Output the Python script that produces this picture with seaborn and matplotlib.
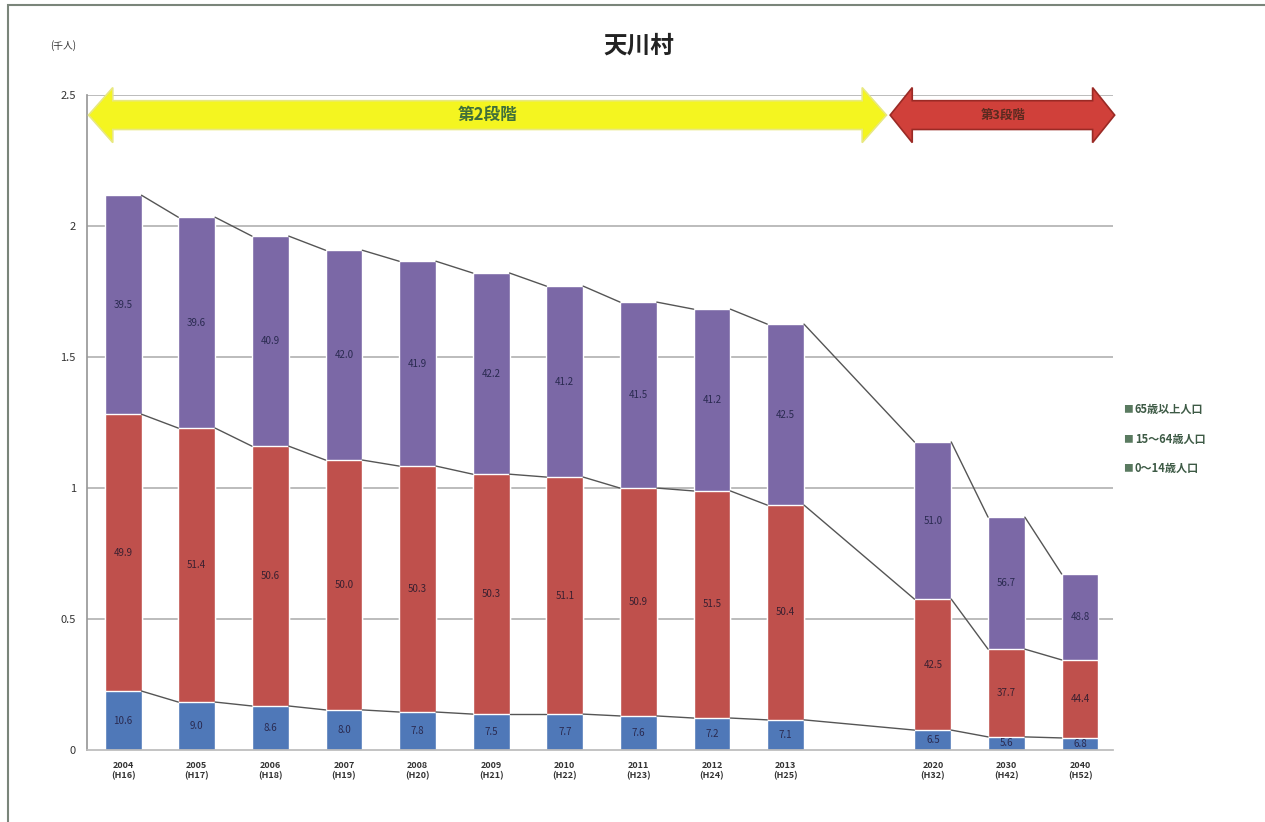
import numpy as np
import pandas as pd
import matplotlib
matplotlib.use("Agg")
import matplotlib.pyplot as plt
from matplotlib.patches import Polygon, Rectangle
import seaborn as sns

# data (thousand people)
years = ["2004\n(H16)", "2005\n(H17)", "2006\n(H18)", "2007\n(H19)", "2008\n(H20)",
         "2009\n(H21)", "2010\n(H22)", "2011\n(H23)", "2012\n(H24)", "2013\n(H25)",
         "2020\n(H32)", "2030\n(H42)", "2040\n(H52)"]
slot = [0, 1, 2, 3, 4, 5, 6, 7, 8, 9, 11, 12, 13]
young = [0.225, 0.183, 0.168, 0.153, 0.145, 0.137, 0.137, 0.130, 0.122, 0.115, 0.076, 0.050, 0.046]
working = [1.057, 1.046, 0.992, 0.954, 0.939, 0.916, 0.905, 0.870, 0.867, 0.820, 0.500, 0.335, 0.298]
elderly = [0.836, 0.805, 0.802, 0.801, 0.782, 0.768, 0.729, 0.710, 0.694, 0.691, 0.600, 0.504, 0.328]
young_lbl = ["10.6", "9.0", "8.6", "8.0", "7.8", "7.5", "7.7", "7.6", "7.2", "7.1", "6.5", "5.6", "6.8"]
working_lbl = ["49.9", "51.4", "50.6", "50.0", "50.3", "50.3", "51.1", "50.9", "51.5", "50.4", "42.5", "37.7", "44.4"]
elderly_lbl = ["39.5", "39.6", "40.9", "42.0", "41.9", "42.2", "41.2", "41.5", "41.2", "42.5", "51.0", "56.7", "48.8"]

c_old = "#7b68a6"
c_mid = "#bf504c"
c_young = "#4f78b8"

df = pd.DataFrame({"slot": slot, "young": young, "working": working, "elderly": elderly})
df["mid_top"] = df["young"] + df["working"]
df["total"] = df["mid_top"] + df["elderly"]

sns.set_theme(style="white")
plt.rcParams["font.family"] = ["Noto Sans CJK JP", "DejaVu Sans"]

fig = plt.figure(figsize=(12.65, 8.22), dpi=100)
ax = fig.add_axes([0.0688, 0.0876, 0.8112, 0.7966])

for v in [0.5, 1.0, 1.5, 2.0, 2.5]:
    ax.axhline(v, color="#b0b0b0", lw=1.2, zorder=0)

bw = 0.5
sns.barplot(data=df, x="slot", y="total", native_scale=True, width=bw, color=c_old,
            saturation=1, ax=ax, zorder=2)
sns.barplot(data=df, x="slot", y="mid_top", native_scale=True, width=bw, color=c_mid,
            saturation=1, ax=ax, zorder=2)
sns.barplot(data=df, x="slot", y="young", native_scale=True, width=bw, color=c_young,
            saturation=1, ax=ax, zorder=2)

# series lines between bars
for col in ["total", "mid_top", "young"]:
    vals = df[col].values
    for i in range(len(slot) - 1):
        ax.plot([slot[i] + bw / 2, slot[i + 1] - bw / 2], [vals[i], vals[i + 1]],
                color="#555555", lw=1.0, zorder=3)

# percent labels inside segments
for i, s in enumerate(slot):
    ax.text(s, young[i] / 2, young_lbl[i], ha="center", va="center", fontsize=7, color="#2a2a50", zorder=4)
    ax.text(s, young[i] + working[i] / 2, working_lbl[i], ha="center", va="center", fontsize=7,
            color="#3a2030", zorder=4)
    ax.text(s, df["mid_top"][i] + elderly[i] / 2, elderly_lbl[i], ha="center", va="center",
            fontsize=7, color="#2a2a50", zorder=4)


def double_arrow(x0, x1, yc, body, head, hl, face, edge):
    pts = [(x0, yc), (x0 + hl, yc + head), (x0 + hl, yc + body), (x1 - hl, yc + body),
           (x1 - hl, yc + head), (x1, yc), (x1 - hl, yc - head), (x1 - hl, yc - body),
           (x0 + hl, yc - body), (x0 + hl, yc - head)]
    ax.add_patch(Polygon(pts, closed=True, facecolor=face, edgecolor=edge, lw=1.2,
                         zorder=5, clip_on=False))


double_arrow(-0.47, 10.37, 2.424, 0.055, 0.105, 0.33, "#f4f520", "#e8e880")
ax.text(4.95, 2.424, "第2段階", ha="center", va="center", fontsize=12, fontweight="bold",
        color="#3f6f3a", zorder=6)
double_arrow(10.42, 13.47, 2.424, 0.055, 0.105, 0.3, "#d0403a", "#9a2a25")
ax.text(11.95, 2.424, "第3段階", ha="center", va="center", fontsize=9, fontweight="bold",
        color="#5a2a20", zorder=6)

ax.set_xlim(-0.49, 13.45)
ax.set_ylim(0, 2.5)
ax.set_xticks(slot)
ax.set_xticklabels(years, fontsize=6.5, fontweight="bold", color="#333333")
ax.set_yticks([0, 0.5, 1, 1.5, 2, 2.5])
ax.set_yticklabels(["0", "0.5", "1", "1.5", "2", "2.5"], fontsize=8, color="#333333")
ax.set_xlabel("")
ax.set_ylabel("")
ax.tick_params(axis="both", length=0, pad=8)
for side in ["top", "right"]:
    ax.spines[side].set_visible(False)
ax.spines["left"].set_color("#999999")
ax.spines["bottom"].set_color("#bbbbbb")

fig.text(0.04, 0.94, "(千人)", fontsize=7, color="#333333")
fig.text(0.505, 0.945, "天川村", ha="center", va="center", fontsize=17, fontweight="bold", color="#222222")

# legend
leg_items = [("65歳以上人口", c_old), ("15～64歳人口", c_mid), ("0～14歳人口", c_young)]
for k, (name, c) in enumerate(leg_items):
    yy = 0.502 - k * 0.036
    fig.text(0.888, yy, "■", fontsize=7, color="#5a7a60", va="center")
    fig.text(0.897, yy, name, fontsize=8, fontweight="bold", color="#3d5a45", va="center")

# scan frame
fig.add_artist(Rectangle((0.006, -0.01), 1.0, 1.004, transform=fig.transFigure,
                         fill=False, edgecolor="#7a857a", lw=1.5))

fig.savefig("out.png", dpi=100)
